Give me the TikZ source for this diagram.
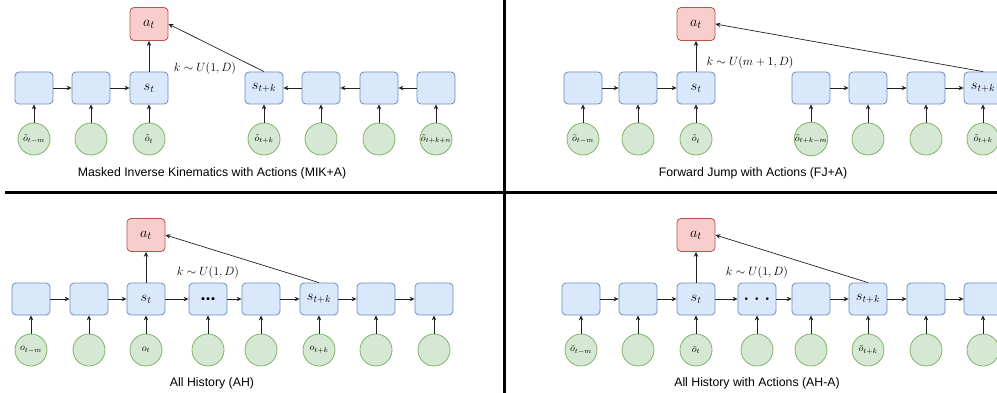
\documentclass[tikz,border=0pt]{standalone}
\usepackage{fontspec}
\setmainfont{Liberation Sans}
\usetikzlibrary{arrows.meta}
\definecolor{bfill}{HTML}{DAE8FC}
\definecolor{bdraw}{HTML}{6C8EBF}
\definecolor{rfill}{HTML}{F8CECC}
\definecolor{rdraw}{HTML}{B85450}
\definecolor{gfill}{HTML}{D5E8D4}
\definecolor{gdraw}{HTML}{82B366}
\definecolor{lcol}{HTML}{222222}
\tikzset{
  sbox/.style={draw=bdraw, fill=bfill, rounded corners=4pt, minimum width=38pt, minimum height=32pt, inner sep=0pt, line width=0.8pt, font=\fontsize{14.5}{16}\selectfont},
  abox/.style={draw=rdraw, fill=rfill, rounded corners=4pt, minimum width=38pt, minimum height=33pt, inner sep=0pt, line width=0.8pt, font=\fontsize{15}{16}\selectfont},
  obs/.style={draw=gdraw, fill=gfill, circle, minimum size=32pt, inner sep=0pt, line width=0.8pt, font=\fontsize{10}{12}\selectfont},
  conn/.style={draw=lcol, line width=0.7pt, -{Stealth[length=5pt,width=4.5pt]}},
  klab/.style={font=\fontsize{12}{14}\selectfont, inner sep=0pt},
  captext/.style={font=\fontsize{12.3}{14}\selectfont, inner sep=0pt},
  divider/.style={draw=black, line width=3pt}
}
\newcommand{\spdots}{{\boldmath$\cdot$}\hspace{5pt}{\boldmath$\cdot$}\hspace{5pt}{\boldmath$\cdot$}}
\begin{document}
\begin{tikzpicture}[x=1pt,y=-1pt]
\useasboundingbox (0,0) rectangle (997,393);
\clip (0,0) rectangle (997,393);
% dividers
\coordinate (hl) at (5,193);
\coordinate (hr) at (997,193);
\coordinate (vt) at (504,0);
\coordinate (vb) at (504,393);
\draw[divider] (hl) -- (hr);
\draw[divider] (vt) -- (vb);

% ---------------- Panel A: MIK+A ----------------
\node[abox] (Aa) at (149,24) {$a_t$};
\foreach \i/\x/\t in {1/34/, 2/91/, 3/149/{$s_t$}, 4/264/{$s_{t+k}$}, 5/321/, 6/379/, 7/436/}{
  \node[sbox] (As\i) at (\x,88) {\t};
}
\foreach \i/\x/\t in {1/34/{$\tilde{o}_{t-m}$}, 2/91/, 3/149/{$\tilde{o}_t$}, 4/264/{$\tilde{o}_{t+k}$}, 5/321/, 6/379/, 7/436/{$\tilde{o}_{t+k+n}$}}{
  \node[obs] (Ao\i) at (\x,139) {\t};
  \draw[conn] (Ao\i) -- (As\i);
}
\draw[conn] (As1) -- (As2);
\draw[conn] (As2) -- (As3);
\draw[conn] (As7) -- (As6);
\draw[conn] (As6) -- (As5);
\draw[conn] (As5) -- (As4);
\draw[conn] (As3) -- (Aa);
\draw[conn] (As4.north) -- (Aa.east);
\node[klab] (Ak) at (205,69) {$k\sim U(1,D)$};
\node[captext] (Ac) at (212,173) {Masked Inverse Kinematics with Actions (MIK+A)};

% ---------------- Panel B: FJ+A ----------------
\node[abox] (Ba) at (696,24) {$a_t$};
\foreach \i/\x/\t in {1/583/, 2/638/, 3/696/{$s_t$}, 4/811/, 5/868/, 6/926/, 7/983/{$s_{t+k}$}}{
  \node[sbox] (Bs\i) at (\x,88) {\t};
}
\foreach \i/\x/\t in {1/583/{$\tilde{o}_{t-m}$}, 2/638/, 3/696/{$\tilde{o}_t$}, 4/811/{$\tilde{o}_{t+k-m}$}, 5/868/, 6/926/, 7/983/{$\tilde{o}_{t+k}$}}{
  \node[obs] (Bo\i) at (\x,139) {\t};
  \draw[conn] (Bo\i) -- (Bs\i);
}
\draw[conn] (Bs1) -- (Bs2);
\draw[conn] (Bs2) -- (Bs3);
\draw[conn] (Bs4) -- (Bs5);
\draw[conn] (Bs5) -- (Bs6);
\draw[conn] (Bs6) -- (Bs7);
\draw[conn] (Bs3) -- (Ba);
\draw[conn] (Bs7.north) -- (Ba.east);
\node[klab] (Bk) at (750,63) {$k\sim U(m+1,D)$};
\node[captext] (Bc) at (753,173) {Forward Jump with Actions (FJ+A)};

% ---------------- Panel C: AH ----------------
\node[abox] (Ca) at (146,235) {$a_t$};
\foreach \i/\x/\t in {1/31/, 2/89/, 3/146/{$s_t$}, 4/208/{\fontsize{18}{18}\selectfont\textbf{...}}, 5/261/, 6/319/{$s_{t+k}$}, 7/376/, 8/434/}{
  \node[sbox] (Cs\i) at (\x,299) {\t};
}
\foreach \i/\x/\t in {1/31/{$o_{t-m}$}, 2/89/, 3/146/{$o_t$}, 4/208/, 5/261/, 6/319/{$o_{t+k}$}, 7/376/, 8/434/}{
  \node[obs] (Co\i) at (\x,350) {\t};
  \draw[conn] (Co\i) -- (Cs\i);
}
\foreach \i/\j in {1/2,2/3,3/4,4/5,5/6,6/7,7/8}{
  \draw[conn] (Cs\i) -- (Cs\j);
}
\draw[conn] (Cs3) -- (Ca);
\draw[conn] (Cs6.north) -- (Ca.east);
\node[klab] (Ck) at (208,273) {$k\sim U(1,D)$};
\node[captext] (Cc) at (212,383) {All History (AH)};

% ---------------- Panel D: AH-A ----------------
\node[abox] (Da) at (696,235) {$a_t$};
\foreach \i/\x/\t in {1/581/, 2/638/, 3/696/{$s_t$}, 4/757/{\fontsize{17}{17}\selectfont\spdots}, 5/811/, 6/868/{$s_{t+k}$}, 7/926/, 8/983/}{
  \node[sbox] (Ds\i) at (\x,299) {\t};
}
\foreach \i/\x/\t in {1/581/{$\bar{o}_{t-m}$}, 2/638/, 3/696/{$\bar{o}_t$}, 4/757/, 5/811/, 6/868/{$\bar{o}_{t+k}$}, 7/926/, 8/983/}{
  \node[obs] (Do\i) at (\x,350) {\t};
  \draw[conn] (Do\i) -- (Ds\i);
}
\foreach \i/\j in {1/2,2/3,3/4,4/5,5/6,6/7,7/8}{
  \draw[conn] (Ds\i) -- (Ds\j);
}
\draw[conn] (Ds3) -- (Da);
\draw[conn] (Ds6.north) -- (Da.east);
\node[klab] (Dk) at (757,273) {$k\sim U(1,D)$};
\node[captext] (Dc) at (757,383) {All History with Actions (AH-A)};
\end{tikzpicture}
\end{document}
